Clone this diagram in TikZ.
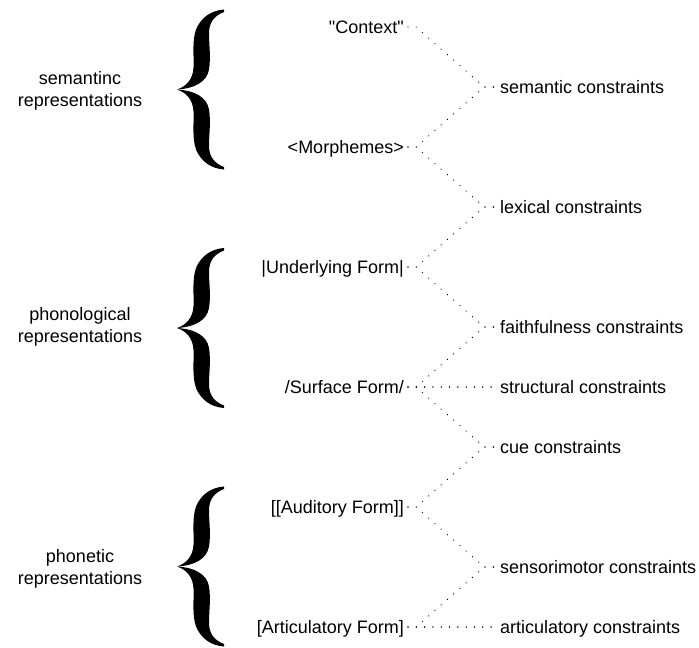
\documentclass[tikz,border=0pt]{standalone}
\usepackage{fontspec}
\newfontfamily\arl{Liberation Sans}
\tikzset{
  lbl/.style={font=\arl\fontsize{18}{22}\selectfont, inner sep=0pt, text height=13pt, text depth=0pt},
  grp/.style={font=\arl\fontsize{18}{22}\selectfont, inner sep=0pt, align=center},
  connline/.style={line width=1.3pt, dash pattern=on 0.01pt off 8.3pt, line cap=round, black},
  bracepic/.pic={
    \fill (0,0) .. controls (9,3) and (16,10) .. (16.5,22) .. controls (17,35) and (15,48) .. (19,60)
      .. controls (24,72) and (34,79) .. (47,80) -- (47,77.5) .. controls (38,74) and (32,68) .. (32,56)
      .. controls (32,45) and (34,32) .. (32,20) .. controls (30,8) and (18,1) .. (0,0) -- cycle;
    \fill[yscale=-1] (0,0) .. controls (9,3) and (16,10) .. (16.5,22) .. controls (17,35) and (15,48) .. (19,60)
      .. controls (24,72) and (34,79) .. (47,80) -- (47,77.5) .. controls (38,74) and (32,68) .. (32,56)
      .. controls (32,45) and (34,32) .. (32,20) .. controls (30,8) and (18,1) .. (0,0) -- cycle;
  }
}
\newcommand\linkit[2]{\draw[connline] ([xshift=4pt]#1.east) -- ([xshift=12pt]#1.east) -- ([xshift=-16pt]#2.west) -- ([xshift=-3pt]#2.west);}
\begin{document}
\begin{tikzpicture}[x=1pt,y=-1pt]
\useasboundingbox (0,0) rectangle (699,648);
% group labels
\node[grp] (gsem) at (80,90.5) {semantinc\\representations};
\node[grp] (gpho) at (80,327) {phonological\\representations};
\node[grp] (gphn) at (80,569) {phonetic\\representations};
% braces
\pic at (177,89.5) {bracepic};
\pic at (177,328) {bracepic};
\pic at (177,566.5) {bracepic};
% left column
\node[lbl, anchor=east] (ctx) at (404,27) {"Context"};
\node[lbl, anchor=east] (mor) at (404,147) {<Morphemes>};
\node[lbl, anchor=east] (und) at (404,267) {|Underlying Form|};
\node[lbl, anchor=east] (sur) at (404,387) {/Surface Form/};
\node[lbl, anchor=east] (aud) at (404,507) {[[Auditory Form]]};
\node[lbl, anchor=east] (art) at (404,627) {[Articulatory Form]};
% right column
\node[lbl, anchor=west] (csem) at (500,87) {semantic constraints};
\node[lbl, anchor=west] (clex) at (500,207) {lexical constraints};
\node[lbl, anchor=west] (cfai) at (500,327) {faithfulness constraints};
\node[lbl, anchor=west] (cstr) at (500,387) {structural constraints};
\node[lbl, anchor=west] (ccue) at (500,447) {cue constraints};
\node[lbl, anchor=west] (csen) at (500,567) {sensorimotor constraints};
\node[lbl, anchor=west] (cart) at (500,627) {articulatory constraints};
% connectors
\linkit{ctx}{csem}
\linkit{mor}{csem}
\linkit{mor}{clex}
\linkit{und}{clex}
\linkit{und}{cfai}
\linkit{sur}{cfai}
\linkit{sur}{cstr}
\linkit{sur}{ccue}
\linkit{aud}{ccue}
\linkit{aud}{csen}
\linkit{art}{csen}
\linkit{art}{cart}
\end{tikzpicture}
\end{document}
